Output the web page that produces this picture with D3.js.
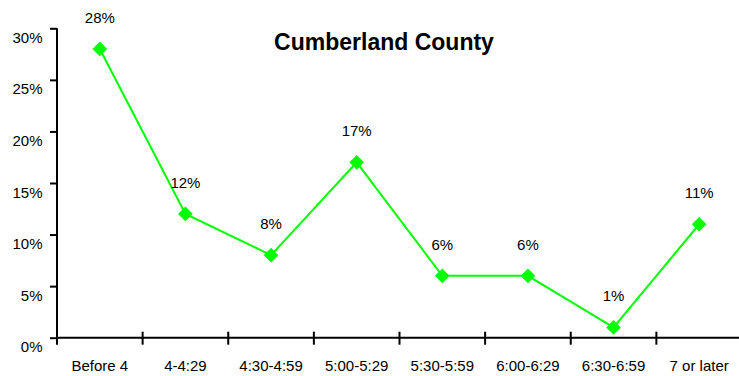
<!DOCTYPE html>
<html>
<head>
<meta charset="utf-8">
<script src="https://cdn.jsdelivr.net/npm/d3@7"></script>
<style>
  html, body { margin: 0; padding: 0; background: #fff; }
  svg { display: block; font-family: "Liberation Sans", Arial, sans-serif; }
</style>
</head>
<body>
<svg id="chart" width="739" height="376"></svg>
<script>
// Departure time share, Cumberland County
const categories = ["Before 4", "4-4:29", "4:30-4:59", "5:00-5:29", "5:30-5:59", "6:00-6:29", "6:30-6:59", "7 or later"];
const shares = [28, 12, 8, 17, 6, 6, 1, 11];
const yTicks = [0, 5, 10, 15, 20, 25, 30];
const title = "Cumberland County";

const svg = d3.select("#chart");
const plotLeft = 57, plotRight = 742, plotTop = 28.3, plotBottom = 337.7;

const x = d3.scaleBand().domain(categories).range([plotLeft, plotRight]);
const y = d3.scaleLinear().domain([0, 30]).range([plotBottom, plotTop]);

// y axis
const yAxis = svg.append("g")
  .attr("transform", `translate(${plotLeft},0)`)
  .call(d3.axisLeft(y).tickValues(yTicks).tickSize(7).tickPadding(7.5).tickFormat(d => d + "%"));
yAxis.select(".domain").attr("stroke", "#000").attr("stroke-width", 2)
  .attr("d", `M0,${plotTop}V${plotBottom}`);
yAxis.selectAll(".tick line").attr("stroke", "#000").attr("stroke-width", 2);
yAxis.selectAll(".tick text")
  .attr("font-size", 15).attr("fill", "#000").attr("dy", 14)
  .attr("font-family", "'Liberation Sans', Arial, sans-serif");

// x axis: ticks on band boundaries crossing the axis line
const xg = svg.append("g");
xg.append("line")
  .attr("x1", plotLeft).attr("x2", 739)
  .attr("y1", plotBottom).attr("y2", plotBottom)
  .attr("stroke", "#000").attr("stroke-width", 2);
const bounds = categories.map(c => x(c)).concat([x(categories[categories.length - 1]) + x.bandwidth()]);
xg.selectAll("line.tick").data(bounds).join("line")
  .attr("class", "tick")
  .attr("x1", d => d).attr("x2", d => d)
  .attr("y1", plotBottom - 6).attr("y2", plotBottom + 7)
  .attr("stroke", "#000").attr("stroke-width", 2);
xg.selectAll("text").data(categories).join("text")
  .attr("x", d => x(d) + x.bandwidth() / 2)
  .attr("y", 370.5)
  .attr("text-anchor", "middle")
  .attr("font-size", 15)
  .text(d => d);

// title
svg.append("text")
  .attr("x", 384).attr("y", 50)
  .attr("text-anchor", "middle")
  .attr("font-size", 23).attr("font-weight", "bold")
  .text(title);

const data = categories.map((c, i) => ({ c, v: shares[i] }));
const cx = d => x(d.c) + x.bandwidth() / 2;

// line
svg.append("path")
  .datum(data)
  .attr("fill", "none")
  .attr("stroke", "#00ff00")
  .attr("stroke-width", 2)
  .attr("d", d3.line().x(cx).y(d => y(d.v)));

// diamond markers
svg.selectAll("path.marker").data(data).join("path")
  .attr("class", "marker")
  .attr("d", d3.symbol().type(d3.symbolSquare).size(108))
  .attr("transform", d => `translate(${cx(d)},${y(d.v)}) rotate(45)`)
  .attr("fill", "#00ff00");

// value labels
svg.selectAll("text.val").data(data).join("text")
  .attr("class", "val")
  .attr("x", cx)
  .attr("y", d => y(d.v) - 26)
  .attr("text-anchor", "middle")
  .attr("font-size", 15)
  .text(d => d.v + "%");
</script>
</body>
</html>
